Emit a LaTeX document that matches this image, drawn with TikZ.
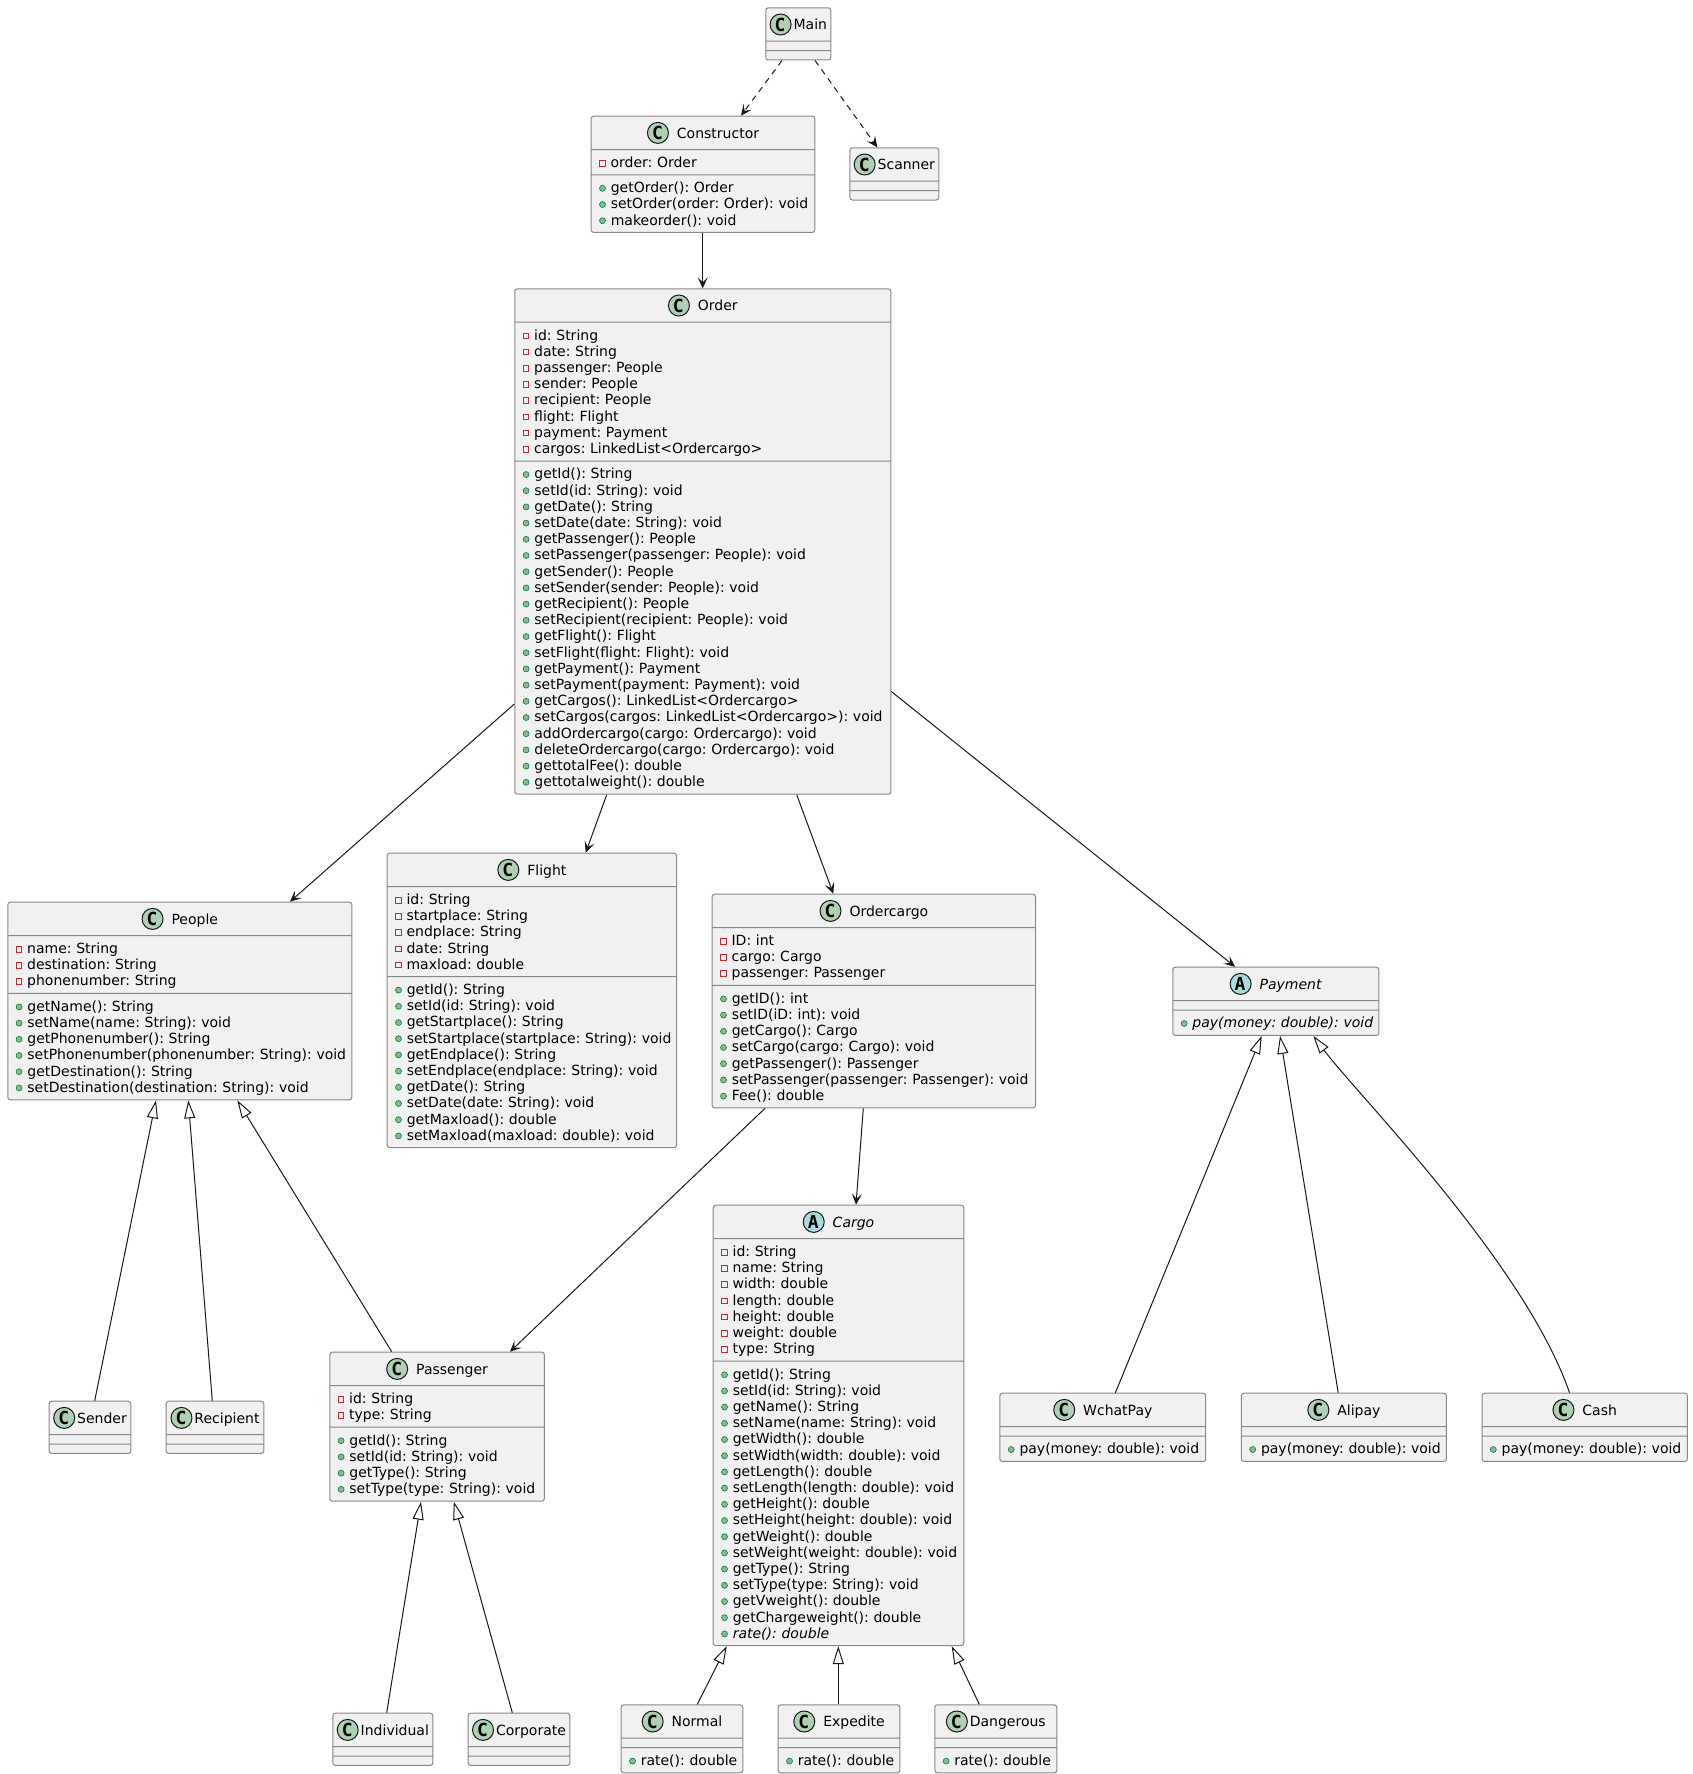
\documentclass[tikz,border=0pt]{standalone}
\usepackage{fontspec}
\setmainfont{DejaVu Sans}
\newfontfamily\icofont{DejaVu Sans Mono}
\usepackage{xcolor}
\usepackage{tikz}
\usetikzlibrary{shapes.multipart, arrows.meta, positioning}
\frenchspacing

\definecolor{boxfill}{HTML}{F1F1F1}
\definecolor{boxline}{HTML}{888888}
\definecolor{edgecol}{HTML}{181818}
\definecolor{icoline}{HTML}{181818}
\definecolor{clsicon}{HTML}{ADD1B2}
\definecolor{absicon}{HTML}{A9DCDF}
\definecolor{privred}{HTML}{C82930}
\definecolor{pubgreen}{HTML}{84BE84}
\definecolor{publine}{HTML}{038048}

\newcommand\umlfont{\fontsize{14}{16.2}\selectfont\frenchspacing}
\newcommand\ls{\rule[-2.7pt]{0pt}{15.8pt}}
\newcommand\pv{\tikz[baseline=-1.5pt]\draw[privred,line width=0.8pt,sharp corners,solid] (0pt,0pt) rectangle (5.6pt,5.6pt);}
\newcommand\pb{\tikz[baseline=-1pt]\filldraw[fill=pubgreen,draw=publine,line width=0.6pt,sharp corners,solid] (3pt,3.3pt) circle[radius=3pt];}
\newcommand\pvt[1]{\ls\kern1pt\pv\kern5pt\mbox{#1}}
\newcommand\pbt[1]{\ls\kern1pt\pb\kern5pt\mbox{#1}}
\newcommand\ico[2]{\rlap{\tikz[baseline=-5.2pt]\filldraw[fill=#2,draw=icoline,line width=1pt,sharp corners,solid] (10.5pt,0pt) circle[radius=10.5pt];}\makebox[21pt][c]{\raisebox{-1.4pt}{\icofont\fontsize{18}{18}\selectfont\bfseries #1}}}
\newcommand\hd[4]{\makebox[\linewidth][c]{\ico{#1}{#2}\hspace{#3}#4\rule[-6.8pt]{0pt}{24pt}}}

\begin{document}
\begin{tikzpicture}[
  x=1pt, y=-1pt,
  every node/.style={font=\umlfont},
  cls/.style={rectangle split, rectangle split parts=3,
              rectangle split ignore empty parts=false,
              rectangle split empty part height=0pt,
              rectangle split empty part depth=0pt,
              draw=boxline, fill=boxfill, line width=1pt, rounded corners=2.5pt,
              inner xsep=7pt, inner ysep=4.2pt, align=left, anchor=north west},
  link/.style={draw=edgecol, line width=1pt},
  dep/.style={link, dash pattern=on 6pt off 5pt,
              -{Stealth[length=11pt,width=10pt,inset=5pt]}},
  assoc/.style={link, -{Stealth[length=11pt,width=10pt,inset=5pt]}},
  inh/.style={link, -{Triangle[length=18pt,width=11pt,fill=white]}}
]
  \useasboundingbox (0,0) rectangle (1693,1774);

  \node[cls, text width=51pt] (main) at (765.3,7.3)
        {\hd{C}{clsicon}{3pt}{Main}\nodepart{two}\nodepart{three}};
  \node[cls, text width=209.6pt] (ctor) at (590.7,115.7)
        {\hd{C}{clsicon}{9pt}{Constructor}
         \nodepart{two}\pvt{order: Order}
         \nodepart{three}\pbt{getOrder(): Order}\\
         \pbt{setOrder(order: Order): void}\\
         \pbt{makeorder(): void}};
  \node[cls, text width=75pt] (scanner) at (849.3,147.3)
        {\hd{C}{clsicon}{3pt}{Scanner}\nodepart{two}\nodepart{three}};
  \node[cls, text width=362pt] (order) at (514.3,288.3)
        {\hd{C}{clsicon}{9pt}{Order}
         \nodepart{two}\pvt{id: String}\\
         \pvt{date: String}\\
         \pvt{passenger: People}\\
         \pvt{sender: People}\\
         \pvt{recipient: People}\\
         \pvt{flight: Flight}\\
         \pvt{payment: Payment}\\
         \pvt{cargos: LinkedList<Ordercargo>}
         \nodepart{three}\pbt{getId(): String}\\
         \pbt{setId(id: String): void}\\
         \pbt{getDate(): String}\\
         \pbt{setDate(date: String): void}\\
         \pbt{getPassenger(): People}\\
         \pbt{setPassenger(passenger: People): void}\\
         \pbt{getSender(): People}\\
         \pbt{setSender(sender: People): void}\\
         \pbt{getRecipient(): People}\\
         \pbt{setRecipient(recipient: People): void}\\
         \pbt{getFlight(): Flight}\\
         \pbt{setFlight(flight: Flight): void}\\
         \pbt{getPayment(): Payment}\\
         \pbt{setPayment(payment: Payment): void}\\
         \pbt{getCargos(): LinkedList<Ordercargo>}\\
         \pbt{setCargos(cargos: LinkedList<Ordercargo>): void}\\
         \pbt{addOrdercargo(cargo: Ordercargo): void}\\
         \pbt{deleteOrdercargo(cargo: Ordercargo): void}\\
         \pbt{gettotalFee(): double}\\
         \pbt{gettotalweight(): double}};
  \node[cls, text width=330pt] (people) at (7.3,901.7)
        {\hd{C}{clsicon}{9pt}{People}
         \nodepart{two}\pvt{name: String}\\
         \pvt{destination: String}\\
         \pvt{phonenumber: String}
         \nodepart{three}\pbt{getName(): String}\\
         \pbt{setName(name: String): void}\\
         \pbt{getPhonenumber(): String}\\
         \pbt{setPhonenumber(phonenumber: String): void}\\
         \pbt{getDestination(): String}\\
         \pbt{setDestination(destination: String): void}};
  \node[cls, text width=275.3pt] (flight) at (386.7,852.7)
        {\hd{C}{clsicon}{9pt}{Flight}
         \nodepart{two}\pvt{id: String}\\
         \pvt{startplace: String}\\
         \pvt{endplace: String}\\
         \pvt{date: String}\\
         \pvt{maxload: double}
         \nodepart{three}\pbt{getId(): String}\\
         \pbt{setId(id: String): void}\\
         \pbt{getStartplace(): String}\\
         \pbt{setStartplace(startplace: String): void}\\
         \pbt{getEndplace(): String}\\
         \pbt{setEndplace(endplace: String): void}\\
         \pbt{getDate(): String}\\
         \pbt{setDate(date: String): void}\\
         \pbt{getMaxload(): double}\\
         \pbt{setMaxload(maxload: double): void}};
  \node[cls, text width=309.3pt] (ocargo) at (711.7,893.7)
        {\hd{C}{clsicon}{9pt}{Ordercargo}
         \nodepart{two}\pvt{ID: int}\\
         \pvt{cargo: Cargo}\\
         \pvt{passenger: Passenger}
         \nodepart{three}\pbt{getID(): int}\\
         \pbt{setID(iD: int): void}\\
         \pbt{getCargo(): Cargo}\\
         \pbt{setCargo(cargo: Cargo): void}\\
         \pbt{getPassenger(): Passenger}\\
         \pbt{setPassenger(passenger: Passenger): void}\\
         \pbt{Fee(): double}};
  \node[cls, text width=192pt] (payment) at (1172.3,966.7)
        {\hd{A}{absicon}{9pt}{\textit{Payment}}
         \nodepart{two}
         \nodepart{three}\pbt{\textit{pay(money: double): void}}};
  \node[cls, text width=236.6pt] (cargo) at (712.7,1204.7)
        {\hd{A}{absicon}{9pt}{\textit{Cargo}}
         \nodepart{two}\pvt{id: String}\\
         \pvt{name: String}\\
         \pvt{width: double}\\
         \pvt{length: double}\\
         \pvt{height: double}\\
         \pvt{weight: double}\\
         \pvt{type: String}
         \nodepart{three}\pbt{getId(): String}\\
         \pbt{setId(id: String): void}\\
         \pbt{getName(): String}\\
         \pbt{setName(name: String): void}\\
         \pbt{getWidth(): double}\\
         \pbt{setWidth(width: double): void}\\
         \pbt{getLength(): double}\\
         \pbt{setLength(length: double): void}\\
         \pbt{getHeight(): double}\\
         \pbt{setHeight(height: double): void}\\
         \pbt{getWeight(): double}\\
         \pbt{setWeight(weight: double): void}\\
         \pbt{getType(): String}\\
         \pbt{setType(type: String): void}\\
         \pbt{getVweight(): double}\\
         \pbt{getChargeweight(): double}\\
         \pbt{\textit{rate(): double}}};
  \node[cls, text width=200.5pt] (passenger) at (329.3,1351.7)
        {\hd{C}{clsicon}{9pt}{Passenger}
         \nodepart{two}\pvt{id: String}\\
         \pvt{type: String}
         \nodepart{three}\pbt{getId(): String}\\
         \pbt{setId(id: String): void}\\
         \pbt{getType(): String}\\
         \pbt{setType(type: String): void}};

  % leaf classes
  \node[cls, text width=67.6pt] (sender) at (48.7,1400.7)
        {\hd{C}{clsicon}{3pt}{Sender}\nodepart{two}\nodepart{three}};
  \node[cls, text width=83.6pt] (recipient) at (165.7,1400.7)
        {\hd{C}{clsicon}{3pt}{Recipient}\nodepart{two}\nodepart{three}};
  \node[cls, text width=86pt] (individual) at (332.3,1712.7)
        {\hd{C}{clsicon}{3pt}{Individual}\nodepart{two}\nodepart{three}};
  \node[cls, text width=87.6pt] (corporate) at (467.7,1712.7)
        {\hd{C}{clsicon}{3pt}{Corporate}\nodepart{two}\nodepart{three}};
  \node[cls, text width=107.6pt] (normal) at (620.7,1704.3)
        {\hd{C}{clsicon}{9pt}{Normal}\nodepart{two}
         \nodepart{three}\pbt{rate(): double}};
  \node[cls, text width=107.6pt] (expedite) at (777.7,1704.3)
        {\hd{C}{clsicon}{9pt}{Expedite}\nodepart{two}
         \nodepart{three}\pbt{rate(): double}};
  \node[cls, text width=108pt] (dangerous) at (934.3,1704.3)
        {\hd{C}{clsicon}{3pt}{Dangerous}\nodepart{two}
         \nodepart{three}\pbt{rate(): double}};
  \node[cls, text width=191.8pt] (wchat) at (999.4,1392.7)
        {\hd{C}{clsicon}{9pt}{WchatPay}\nodepart{two}
         \nodepart{three}\pbt{pay(money: double): void}};
  \node[cls, text width=191pt] (alipay) at (1240.9,1392.7)
        {\hd{C}{clsicon}{9pt}{Alipay}\nodepart{two}
         \nodepart{three}\pbt{pay(money: double): void}};
  \node[cls, text width=191.4pt] (cash) at (1481.5,1392.7)
        {\hd{C}{clsicon}{9pt}{Cash}\nodepart{two}
         \nodepart{three}\pbt{pay(money: double): void}};

  % dependencies and associations
  \draw[dep] ([xshift=16.7pt]main.south west) -- ([xshift=150.3pt]ctor.north west);
  \draw[dep] ([xshift=49.7pt]main.south west) -- ([xshift=28pt]scanner.north west);
  \draw[assoc] ([xshift=112pt]ctor.south west) -- ([xshift=188.4pt]order.north west);
  \draw[assoc] ([yshift=-415.7pt]order.north west) -- ([xshift=282.7pt]people.north west);
  \draw[assoc] ([xshift=92.4pt]order.south west) -- ([xshift=199pt]flight.north west);
  \draw[assoc] ([xshift=282.4pt]order.south west) -- ([xshift=121.6pt]ocargo.north west);
  \draw[assoc] ([yshift=-403.2pt]order.north east) -- ([xshift=62.7pt]payment.north west);
  \draw[assoc] ([xshift=53.3pt]ocargo.south west) -- ([xshift=180.7pt]passenger.north west);
  \draw[assoc] ([xshift=151.6pt]ocargo.south west) -- ([xshift=143.3pt]cargo.north west);

  % inheritance
  \draw[inh] ([xshift=46pt]sender.north west) -- ([xshift=148.7pt]people.south west);
  \draw[inh] ([xshift=46.6pt]recipient.north west) -- ([xshift=181pt]people.south west);
  \draw[inh] ([xshift=62.4pt]passenger.north west) -- ([xshift=230pt]people.south west);
  \draw[inh] ([xshift=54.4pt]individual.north west) -- ([xshift=91.7pt]passenger.south west);
  \draw[inh] ([xshift=44.6pt]corporate.north west) -- ([xshift=124.5pt]passenger.south west);
  \draw[inh] ([xshift=76.6pt]normal.north west) -- ([xshift=14pt]cargo.south west);
  \draw[inh] ([xshift=60.6pt]expedite.north west) -- ([xshift=125.6pt]cargo.south west);
  \draw[inh] ([xshift=45pt]dangerous.north west) -- ([xshift=239pt]cargo.south west);
  \draw[inh] ([xshift=116pt]wchat.north west) -- ([xshift=89.4pt]payment.south west);
  \draw[inh] ([xshift=97.3pt]alipay.north west) -- ([xshift=107.7pt]payment.south west);
  \draw[inh] ([xshift=88pt]cash.north west) .. controls +(-45,-130) and +(45,60)
        .. ([xshift=141pt]payment.south west);
\end{tikzpicture}
\end{document}
